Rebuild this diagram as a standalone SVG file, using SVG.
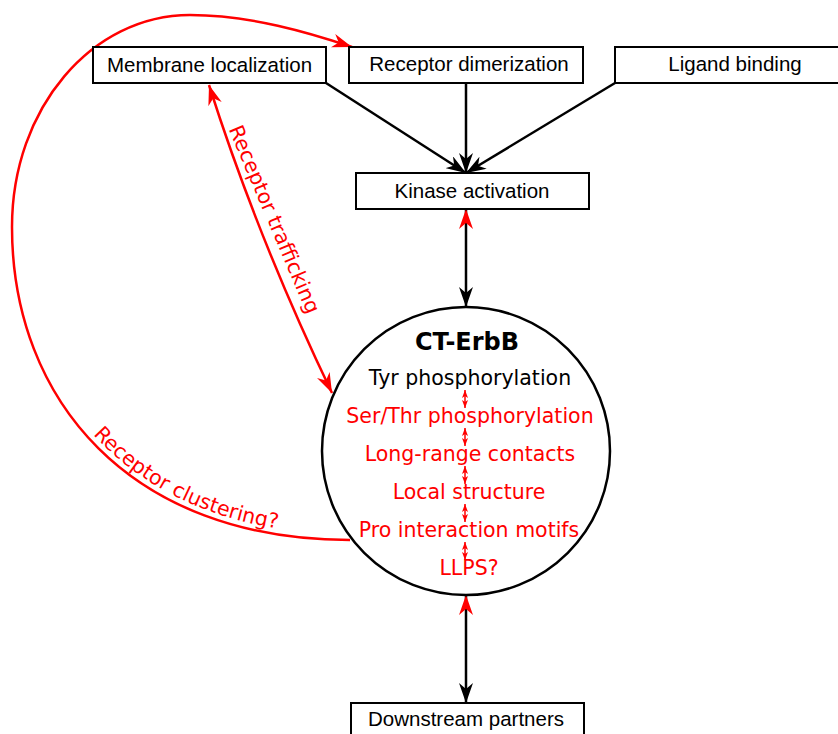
<svg xmlns="http://www.w3.org/2000/svg" width="838" height="734" viewBox="0 0 838 734">
<style>
.box{fill:#fff;stroke:#000;stroke-width:2}
.bt{font-family:"Liberation Sans",Arial,sans-serif;font-size:20.5px;fill:#000;text-anchor:middle}
.ct{font-family:"DejaVu Sans",Verdana,sans-serif;font-size:20.5px;text-anchor:middle}
.blk{fill:none;stroke:#000;stroke-width:2.5}
.red{fill:none;stroke:#f00;stroke-width:2.5}
.sm{fill:none;stroke:#f00;stroke-width:1.5}
</style>
<defs>
<marker id="bk" viewBox="0 0 20 14" refX="20" refY="7" markerWidth="20" markerHeight="14" markerUnits="userSpaceOnUse" orient="auto-start-reverse"><path d="M0,0 L20,7 L0,14 L6,7 Z" fill="#000"/></marker>
<marker id="rd" viewBox="0 0 20 14" refX="20" refY="7" markerWidth="20" markerHeight="14" markerUnits="userSpaceOnUse" orient="auto-start-reverse"><path d="M0,0 L20,7 L0,14 L6,7 Z" fill="#f00"/></marker>
<marker id="rs" viewBox="0 0 8 6" refX="8" refY="3" markerWidth="8" markerHeight="6" markerUnits="userSpaceOnUse" orient="auto-start-reverse"><path d="M0,0 L8,3 L0,6 L2,3 Z" fill="#f00"/></marker>
<path id="clpath" d="M18,227 C18,398 134,534 350,534"/>
</defs>
<g id="connectors">
<path class="blk" d="M326,83 L466,173" marker-end="url(#bk)"/>
<path class="blk" d="M466,83 L466,173" marker-end="url(#bk)"/>
<path class="blk" d="M615,83 L466,173" marker-end="url(#bk)"/>
<path class="blk" d="M466,209 L466,307" marker-start="url(#rd)" marker-end="url(#bk)"/>
<path class="blk" d="M466,595 L466,703" marker-start="url(#rd)" marker-end="url(#bk)"/>
<path class="red" d="M209,85 Q258,239 332,393" marker-start="url(#rd)" marker-end="url(#rd)"/>
<path class="red" d="M350,540 C130,540 12,400 12,227 C12,108 92,15 190,15 C250,15 310,33 352,47" marker-end="url(#rd)"/>
<g id="inner-arrows">
<path class="sm" d="M465,390 L465,408" marker-start="url(#rs)" marker-end="url(#rs)"/>
<path class="sm" d="M465,428 L465,446" marker-start="url(#rs)" marker-end="url(#rs)"/>
<path class="sm" d="M465,466 L465,484" marker-start="url(#rs)" marker-end="url(#rs)"/>
<path class="sm" d="M465,504 L465,522" marker-start="url(#rs)" marker-end="url(#rs)"/>
<path class="sm" d="M465,542 L465,560" marker-start="url(#rs)" marker-end="url(#rs)"/>
</g>
<text class="ct" fill="#f00" transform="translate(268,222) rotate(67)">Receptor trafficking</text>
<text class="ct" fill="#f00"><textPath href="#clpath" startOffset="65%">Receptor clustering?</textPath></text>
</g>
<g id="membrane"><rect class="box" x="93" y="47" width="233" height="36"/><text class="bt" x="209.5" y="72">Membrane localization</text></g>
<g id="dimerization"><rect class="box" x="349" y="47" width="234" height="36"/><text class="bt" x="469" y="71">Receptor dimerization</text></g>
<g id="ligand"><rect class="box" x="615" y="47" width="240" height="36"/><text class="bt" x="735" y="71">Ligand binding</text></g>
<g id="kinase"><rect class="box" x="356" y="173" width="233" height="36"/><text class="bt" x="472" y="198">Kinase activation</text></g>
<g id="downstream"><rect class="box" x="351" y="703" width="233" height="36"/><text class="bt" x="466" y="726">Downstream partners</text></g>
<g id="ct-erbb">
<circle cx="466" cy="451" r="144" fill="none" stroke="#000" stroke-width="2.5"/>
<text class="ct" x="467" y="350" style="font-weight:bold;font-size:24px" fill="#000">CT-ErbB</text>
<text class="ct" x="470" y="385" fill="#000">Tyr phosphorylation</text>
<text class="ct" x="470" y="423" fill="#f00">Ser/Thr phosphorylation</text>
<text class="ct" x="470" y="461" fill="#f00">Long-range contacts</text>
<text class="ct" x="469" y="499" fill="#f00">Local structure</text>
<text class="ct" x="469" y="537" fill="#f00">Pro interaction motifs</text>
<text class="ct" x="469" y="575" fill="#f00">LLPS?</text>
</g>
</svg>
